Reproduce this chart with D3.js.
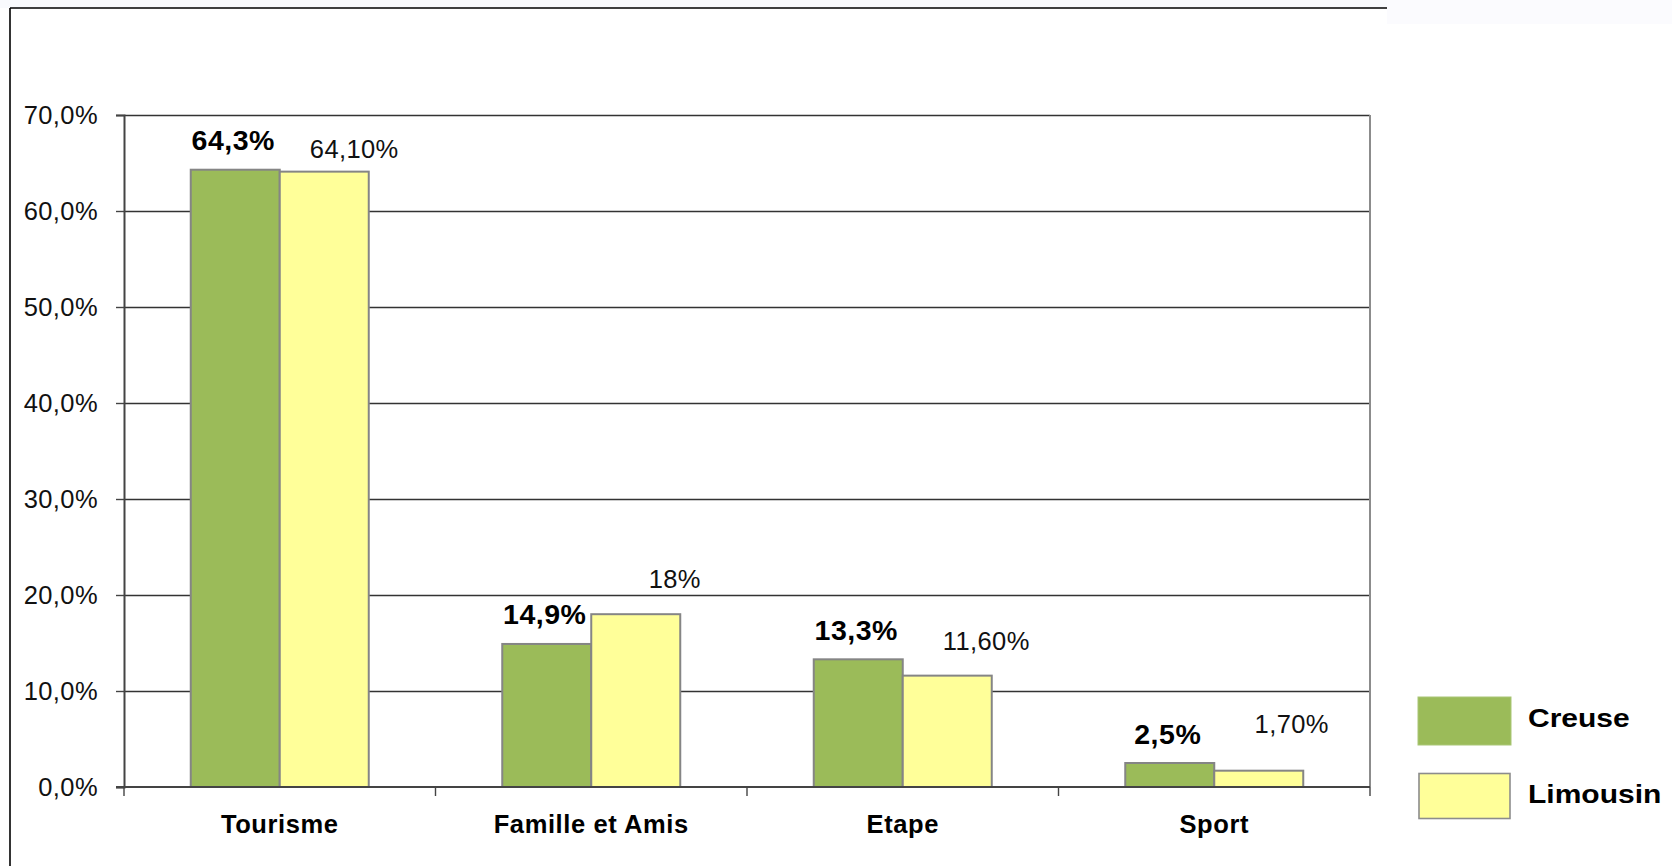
<!DOCTYPE html>
<html>
<head>
<meta charset="utf-8">
<script src="https://cdn.jsdelivr.net/npm/d3@7/dist/d3.min.js"></script>
<style>
  html, body { margin: 0; padding: 0; background: #ffffff; }
  svg { display: block; }
  text { font-family: "Liberation Sans", Arial, sans-serif; }
</style>
</head>
<body>
<svg id="chart" width="1672" height="866"></svg>
<script>
// Motifs de séjour : Creuse vs Limousin (en %)
const categories = ["Tourisme", "Famille et Amis", "Etape", "Sport"];
const seriesNames = ["Creuse", "Limousin"];
const creuse = [64.3, 14.9, 13.3, 2.5];
const limousin = [64.1, 18, 11.6, 1.7];
const limousinLabels = ["64,10%", "18%", "11,60%", "1,70%"];
const yTicks = [0, 10, 20, 30, 40, 50, 60, 70];

const colors = { Creuse: "#9BBB59", Limousin: "#FFFF99" };

const svg = d3.select("#chart");
const W = 1672, H = 866;

// Cadre extérieur
svg.append("rect").attr("x", 0).attr("y", 0).attr("width", W).attr("height", 8).attr("fill", "#f9fafd");
svg.append("rect").attr("x", 1387).attr("y", 0).attr("width", W - 1387).attr("height", 24).attr("fill", "#fbfbfe");
svg.append("line").attr("x1", 10).attr("y1", 8).attr("x2", 1387).attr("y2", 8)
  .attr("stroke", "#000").attr("stroke-width", 1.6);
svg.append("line").attr("x1", 10).attr("y1", 8).attr("x2", 10).attr("y2", H)
  .attr("stroke", "#000").attr("stroke-width", 1.6);

const plot = { left: 124, right: 1370, top: 115, bottom: 787 };

const x0 = d3.scaleBand().domain(categories).range([plot.left, plot.right]).paddingInner(0).paddingOuter(0);
const x1 = d3.scaleBand().domain(seriesNames).range([0, x0.bandwidth()]).paddingInner(0).paddingOuter(0.75);
const y = d3.scaleLinear().domain([0, 70]).range([plot.bottom, plot.top]);

const locale = d3.formatLocale({ decimal: ",", thousands: " ", grouping: [3], currency: ["", " €"] });
const fmt1 = locale.format(".1f");

// Quadrillage horizontal
svg.append("g").selectAll("line").data(yTicks.filter(d => d > 0)).join("line")
  .attr("x1", plot.left).attr("x2", plot.right)
  .attr("y1", d => Math.round(y(d)) + 0.5).attr("y2", d => Math.round(y(d)) + 0.5)
  .attr("stroke", "#333").attr("stroke-width", 1.3);

// Bord droit de la zone de tracé
svg.append("line").attr("x1", plot.right).attr("x2", plot.right)
  .attr("y1", plot.top).attr("y2", plot.bottom)
  .attr("stroke", "#8c8c8c").attr("stroke-width", 2);

// Axe vertical
const yAxis = d3.axisLeft(y).tickValues(yTicks).tickSize(8).tickPadding(18)
  .tickFormat(d => fmt1(d) + "%");
const gy = svg.append("g").attr("transform", `translate(${plot.left},0)`).call(yAxis);
gy.select(".domain").attr("stroke", "#444").attr("stroke-width", 2);
gy.selectAll(".tick line").attr("stroke", "#444").attr("stroke-width", 1.4);
gy.selectAll(".tick text").attr("font-size", 25.5).attr("fill", "#111")
  .attr("letter-spacing", 0.4)
  .attr("font-family", "'Liberation Sans', Arial, sans-serif");

// Barres
const groups = svg.append("g").selectAll("g").data(categories).join("g")
  .attr("transform", d => `translate(${x0(d)},0)`);

groups.selectAll("rect")
  .data((d, i) => [
    { key: "Creuse", value: creuse[i] },
    { key: "Limousin", value: limousin[i] }
  ])
  .join("rect")
  .attr("x", d => x1(d.key))
  .attr("y", d => y(d.value))
  .attr("width", x1.bandwidth())
  .attr("height", d => y(0) - y(d.value))
  .attr("fill", d => colors[d.key])
  .attr("stroke", "#858585")
  .attr("stroke-width", 2);

// Axe horizontal
const xAxis = d3.axisBottom(x0).tickSize(0).tickPadding(28);
const gx = svg.append("g").attr("transform", `translate(0,${plot.bottom})`).call(xAxis);
gx.select(".domain").remove();
gx.selectAll(".tick text").attr("font-size", 25.5).attr("font-weight", "bold").attr("fill", "#000")
  .attr("letter-spacing", 0.6)
  .attr("font-family", "'Liberation Sans', Arial, sans-serif");
svg.append("line").attr("x1", plot.left - 8).attr("x2", plot.right)
  .attr("y1", plot.bottom).attr("y2", plot.bottom)
  .attr("stroke", "#444").attr("stroke-width", 2);
// Séparateurs de catégories
const edges = categories.map(c => x0(c)).concat([plot.right]);
svg.append("g").selectAll("line").data(edges).join("line")
  .attr("x1", d => d).attr("x2", d => d)
  .attr("y1", plot.bottom).attr("y2", plot.bottom + 9)
  .attr("stroke", "#444").attr("stroke-width", 1.4);

// Étiquettes de valeurs : Creuse (gras, centrées sur la barre)
svg.append("g").selectAll("text").data(categories).join("text")
  .attr("x", (d, i) => x0(d) + x1("Creuse") + x1.bandwidth() / 2 - 2)
  .attr("y", (d, i) => y(creuse[i]) - 19.5)
  .attr("text-anchor", "middle")
  .attr("font-size", 28.5).attr("font-weight", "bold").attr("fill", "#000")
  .attr("letter-spacing", 0.5)
  .text((d, i) => fmt1(creuse[i]) + "%");

// Étiquettes de valeurs : Limousin (décalées à droite de la barre)
const limNudge = [[30, -13.5], [39, -26], [39, -25.5], [33, -38]];
svg.append("g").selectAll("text").data(categories).join("text")
  .attr("x", (d, i) => x0(d) + x1("Limousin") + x1.bandwidth() / 2 + limNudge[i][0])
  .attr("y", (d, i) => y(limousin[i]) + limNudge[i][1])
  .attr("text-anchor", "middle")
  .attr("font-size", 25.5).attr("fill", "#111")
  .attr("letter-spacing", 0.4)
  .text((d, i) => limousinLabels[i]);

// Légende
const legend = svg.append("g").attr("transform", "translate(1418,697)");
const legItems = legend.selectAll("g").data(seriesNames).join("g")
  .attr("transform", (d, i) => `translate(0,${i * 76.5})`);
legItems.append("rect")
  .attr("x", (d, i) => i === 0 ? 0 : 1)
  .attr("y", 0)
  .attr("width", (d, i) => i === 0 ? 93 : 91)
  .attr("height", (d, i) => i === 0 ? 48 : 45)
  .attr("fill", d => colors[d])
  .attr("stroke", (d, i) => i === 0 ? "#a9c677" : "#8c8c8c")
  .attr("stroke-width", (d, i) => i === 0 ? 1 : 1.6);
legItems.append("text")
  .attr("transform", (d, i) => `translate(110,${i === 0 ? 30 : 29.5}) scale(1.2,1)`)
  .attr("font-size", 25).attr("font-weight", "bold").attr("fill", "#000")
  .text(d => d);
</script>
</body>
</html>
